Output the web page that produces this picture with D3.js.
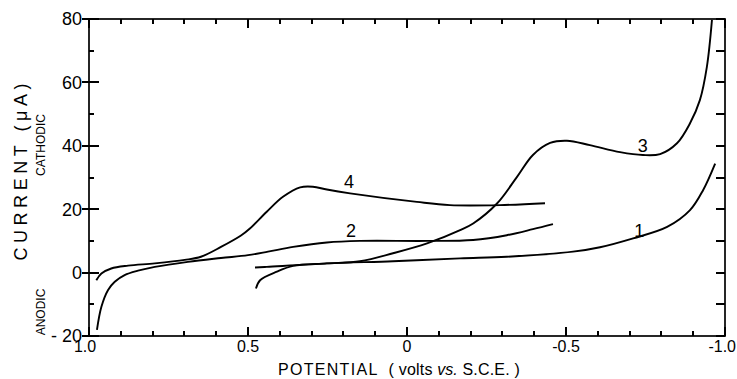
<!DOCTYPE html>
<html>
<head>
<meta charset="utf-8">
<script src="https://cdn.jsdelivr.net/npm/d3@7"></script>
<style>
body { margin: 0; background: #fff; }
svg { display: block; font-family: "Liberation Sans", Arial, sans-serif; }
</style>
</head>
<body>
<div id="vis"></div>
<script>
// curves: potential (V vs SCE) and current (uA)
const curve1Potential = [0.478, 0.441, 0.252, 0.044, -0.167, -0.314, -0.522, -0.607, -0.711, -0.818, -0.890, -0.931, -0.969];
const curve1Current = [1.6, 1.8, 2.9, 3.6, 4.5, 5.0, 6.6, 8.0, 10.8, 14.4, 19.7, 26.0, 34.4];

const curve2Potential = [0.975, 0.961, 0.940, 0.919, 0.888, 0.846, 0.793, 0.689, 0.585, 0.500, 0.437, 0.358, 0.252, 0.148, -0.063, -0.208, -0.314, -0.396, -0.459];
const curve2Current = [-18.1, -10.8, -5.5, -2.9, -0.8, 0.6, 1.8, 3.4, 4.6, 5.5, 6.6, 8.1, 9.5, 10.0, 10.0, 10.3, 11.8, 13.7, 15.3];

const curve3Potential = [0.475, 0.462, 0.409, 0.358, 0.252, 0.148, 0.044, -0.063, -0.167, -0.208, -0.283, -0.346, -0.396, -0.450, -0.503, -0.575, -0.670, -0.742, -0.796, -0.849, -0.890, -0.921, -0.943, -0.959];
const curve3Current = [-5.0, -2.4, 0.3, 2.1, 2.9, 3.6, 6.1, 9.2, 13.4, 15.5, 21.8, 30.2, 37.1, 40.9, 41.6, 40.2, 38.0, 37.1, 37.4, 40.8, 47.1, 54.4, 64.9, 79.7];

const curve4Potential = [0.977, 0.961, 0.930, 0.877, 0.793, 0.699, 0.648, 0.585, 0.522, 0.494, 0.441, 0.390, 0.336, 0.296, 0.252, 0.179, -0.031, -0.135, -0.292, -0.434];
const curve4Current = [-2.4, -0.3, 1.3, 2.2, 2.9, 4.0, 5.0, 8.1, 11.7, 13.9, 19.2, 23.9, 26.9, 27.1, 26.2, 25.0, 22.3, 21.3, 21.3, 21.9];

const curveNames = ["1", "2", "3", "4"];
const labelPotential = [-0.730, 0.176, -0.741, 0.182];
const labelCurrent = [11.2, 11.2, 38.0, 26.7];

const xMajorTicks = [1.0, 0.5, 0, -0.5, -1.0];
const xTickLabels = ["1.0", "0.5", "0", "-0.5", "-1.0"];
const yMajorTicks = [80, 60, 40, 20, 0, -20];
const yTickLabels = ["80", "60", "40", "20", "0", "- 20"];

const WIDTH = 737;
const HEIGHT = 379;
const MARGINS = { left: 89, right: 12, top: 19, bottom: 43 };
const INK = "#000";

const svg = d3.select("#vis")
    .append("svg")
    .attr("width", WIDTH)
    .attr("height", HEIGHT);

const X_SCALE = d3.scaleLinear().domain([1.0, -1.0]).range([MARGINS.left, WIDTH - MARGINS.right]);
const Y_SCALE = d3.scaleLinear().domain([-20, 80]).range([HEIGHT - MARGINS.bottom, MARGINS.top]);

const xMinor = d3.range(-10, 11).map(d => d / 10);
const yMinor = d3.range(-20, 81, 10);

const plotBottom = HEIGHT - MARGINS.bottom;
const plotTop = MARGINS.top;
const plotLeft = MARGINS.left;
const plotRight = WIDTH - MARGINS.right;

// frame
svg.append("rect")
    .attr("x", plotLeft).attr("y", plotTop)
    .attr("width", plotRight - plotLeft).attr("height", plotBottom - plotTop)
    .attr("fill", "none")
    .attr("stroke", INK)
    .attr("stroke-width", 1.7);

// tick marks, one path per edge, placed through the scales
const px = v => Math.round(X_SCALE(v));
const py = v => Math.round(Y_SCALE(v));

function drawTicks(d) {
    svg.append("path")
        .attr("d", d)
        .attr("fill", "none")
        .attr("stroke", INK)
        .attr("stroke-width", 2);
}

// bottom + top edges, pointing inward (longer at the labelled values)
drawTicks(xMinor.map(v => "M" + px(v) + "," + plotBottom + "V" + (plotBottom - 5)).join(""));
drawTicks(xMajorTicks.map(v => "M" + px(v) + "," + plotBottom + "V" + (plotBottom - 9)).join(""));
drawTicks(xMinor.map(v => "M" + px(v) + "," + plotTop + "V" + (plotTop + 5)).join(""));
drawTicks(xMajorTicks.map(v => "M" + px(v) + "," + plotTop + "V" + (plotTop + 9)).join(""));

// left edge: minor inward, major crossing the frame
drawTicks(yMinor.map(v => "M" + plotLeft + "," + py(v) + "H" + (plotLeft + 5)).join(""));
drawTicks(yMajorTicks.map(v => "M" + (plotLeft - 7) + "," + py(v) + "H" + (plotLeft + 10)).join(""));

// right edge, inward
drawTicks(yMinor.map(v => "M" + (plotRight - 9) + "," + py(v) + "H" + plotRight).join(""));

// tick labels
svg.append("g").selectAll("text")
    .data(yMajorTicks).enter().append("text")
    .attr("x", plotLeft - 7)
    .attr("y", d => Y_SCALE(d))
    .attr("dy", "0.35em")
    .attr("text-anchor", "end")
    .attr("font-size", 18)
    .attr("fill", INK)
    .text((d, i) => yTickLabels[i]);

svg.append("g").selectAll("text")
    .data(xMajorTicks).enter().append("text")
    .attr("x", (d, i) => i === xMajorTicks.length - 1 ? WIDTH - 1 : X_SCALE(d) - (i === 0 ? 4 : 0))
    .attr("y", plotBottom + 16)
    .attr("text-anchor", (d, i) => i === xMajorTicks.length - 1 ? "end" : "middle")
    .attr("font-size", 16)
    .attr("fill", INK)
    .text((d, i) => xTickLabels[i]);

// curves
const curves = [
    [curve1Potential, curve1Current],
    [curve2Potential, curve2Current],
    [curve3Potential, curve3Current],
    [curve4Potential, curve4Current]
];

const curveLine = d3.line()
    .x(d => X_SCALE(d[0]))
    .y(d => Y_SCALE(d[1]))
    .curve(d3.curveCatmullRom.alpha(0.5));

svg.selectAll(".curve")
    .data(curves)
    .enter()
    .append("path")
    .attr("class", "curve")
    .attr("d", c => curveLine(c[0].map((p, i) => [p, c[1][i]])))
    .attr("fill", "none")
    .attr("stroke", INK)
    .attr("stroke-width", 1.9);

svg.selectAll(".curve-label")
    .data(curveNames)
    .enter()
    .append("text")
    .attr("class", "curve-label")
    .attr("x", (d, i) => X_SCALE(labelPotential[i]))
    .attr("y", (d, i) => Y_SCALE(labelCurrent[i]))
    .attr("text-anchor", "middle")
    .attr("font-size", 18)
    .attr("fill", INK)
    .text(d => d);

// axis titles
svg.append("text")
    .attr("transform", "translate(27,172) rotate(-90)")
    .attr("text-anchor", "middle")
    .attr("font-size", 18)
    .attr("textLength", 177)
    .attr("lengthAdjust", "spacing")
    .attr("fill", INK)
    .text("CURRENT (\u03bcA)");

svg.append("text")
    .attr("transform", "translate(45,145) rotate(-90)")
    .attr("text-anchor", "middle")
    .attr("font-size", 12)
    .attr("fill", INK)
    .text("CATHODIC");

svg.append("text")
    .attr("transform", "translate(45,312) rotate(-90)")
    .attr("text-anchor", "middle")
    .attr("font-size", 12)
    .attr("fill", INK)
    .text("ANODIC");

const xTitle = svg.append("text")
    .attr("x", 278).attr("y", 375)
    .attr("font-size", 16)
    .attr("fill", INK);
xTitle.append("tspan").attr("letter-spacing", 1.3).text("POTENTIAL");
xTitle.append("tspan").attr("dx", 10).attr("letter-spacing", 0.2).text("( volts ");
xTitle.append("tspan").attr("font-style", "italic").text("vs.");
xTitle.append("tspan").attr("letter-spacing", 0.2).text(" S.C.E. )");
</script>
</body>
</html>
